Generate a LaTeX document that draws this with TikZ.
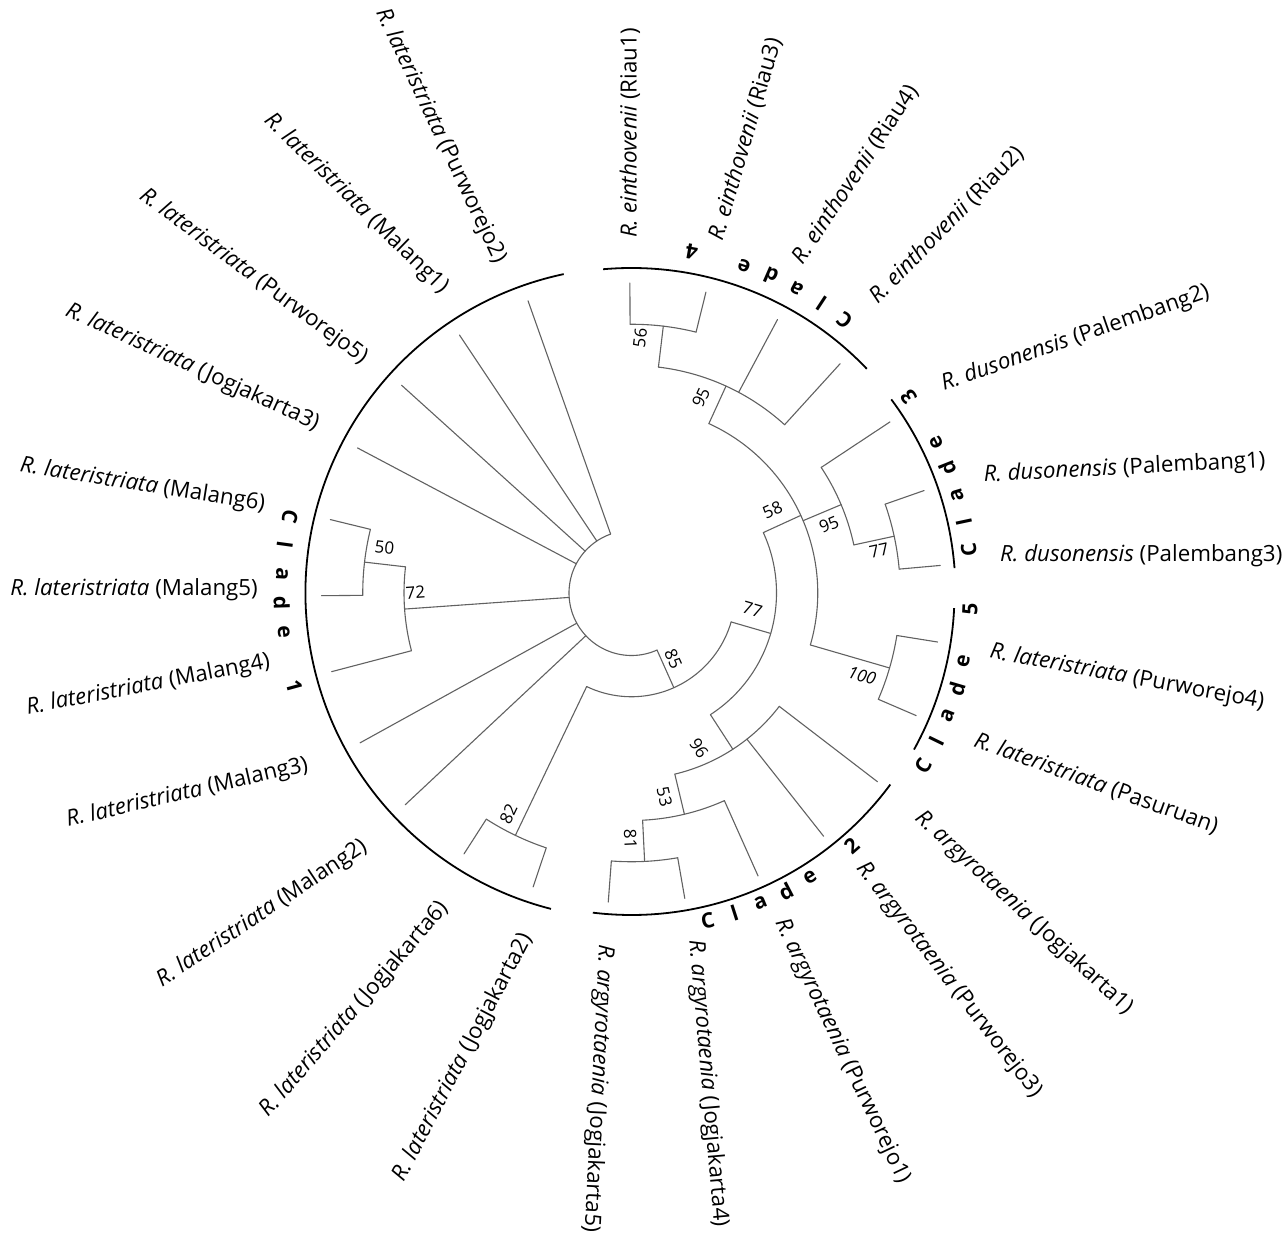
\documentclass[tikz,border=0pt]{standalone}
\usepackage{fontspec}
\setmainfont{Open Sans}
\begin{document}
\begin{tikzpicture}[x=1pt,y=1pt]
\tikzset{
 br/.style={draw=black!62, line width=1.1pt, line cap=round},
 cl/.style={draw=black, line width=1.8pt},
 lab/.style={font=\fontsize{22.3}{26}\selectfont, inner sep=0pt},
 bs/.style={font=\fontsize{17}{20}\selectfont, inner sep=0pt},
 cll/.style={font=\bfseries\fontsize{21}{24}\selectfont, inner sep=0pt},
}
\useasboundingbox (-631.5,-653) rectangle (655.5,593);
\newcommand{\Br}[4]{\coordinate (#1b) at (#2:#3pt); \coordinate (#1) at (#2:#4pt); \draw[br] (#1b) -- (#1);}
\newcommand{\Ar}[4]{\draw[br] (#1) arc[start angle=#2, end angle=#3, radius=#4pt];}
\newcommand{\leafR}[5]{\node[lab,rotate=#4,anchor=west] (t#1) at (#2,#3) {#5};}
\newcommand{\leafL}[5]{\node[lab,rotate=#4,anchor=east] (t#1) at (#2,#3) {#5};}
\newcommand{\cletter}[4]{\node[cll,rotate={#2+90}] (#1) at (#2:#3pt) {#4};}
\newcommand{\bsl}[5]{\node[bs,rotate=#4] (#1) at (#2,#3) {#5};}
% radii: r0 62.5 r1 103.75 r2 145 r3 186.25 r4 227.5 r5 268.75 r6 310
% leaves
\Br{L0}{90.3}{268.75}{310}
\Br{L1}{76.1}{268.75}{310}
\Br{L2}{61.9}{227.5}{310}
\Br{L3}{47.7}{227.5}{310}
\Br{L4}{33.5}{227.5}{310}
\Br{L5}{19.3}{268.75}{310}
\Br{L6}{5.1}{268.75}{310}
\Br{L7}{-9.1}{268.75}{310}
\Br{L8}{-23.3}{268.75}{310}
\Br{L9}{-37.5}{186.25}{310}
\Br{L10}{-51.7}{186.25}{310}
\Br{L11}{-65.9}{227.5}{310}
\Br{L12}{-80.1}{268.75}{310}
\Br{L13}{-94.3}{268.75}{310}
\Br{L14}{-108.5}{268.75}{310}
\Br{L15}{-122.7}{268.75}{310}
\Br{L16}{-136.9}{62.5}{310}
\Br{L17}{-151.1}{62.5}{310}
\Br{L18}{-165.3}{227.5}{310}
\Br{L19}{-179.5}{268.75}{310}
\Br{L20}{-193.7}{268.75}{310}
\Br{L21}{-207.9}{62.5}{310}
\Br{L22}{-222.1}{62.5}{310}
\Br{L23}{-236.3}{62.5}{310}
\Br{L24}{-250.5}{62.5}{310}
% internal stems
\Br{n56}{83.2}{227.5}{268.75}
\Br{n95a}{65.45}{186.25}{227.5}
\Br{n77c}{12.2}{227.5}{268.75}
\Br{n95b}{22.85}{186.25}{227.5}
\Br{n100}{-16.2}{186.25}{268.75}
\Br{n58}{24.625}{145}{186.25}
\Br{n81}{-87.2}{227.5}{268.75}
\Br{n53}{-76.55}{186.25}{227.5}
\Br{n96}{-57.025}{145}{186.25}
\Br{n77}{-16.2}{103.75}{145}
\Br{n82}{-115.6}{103.75}{268.75}
\Br{n85}{-65.9}{62.5}{103.75}
\Br{n50}{-186.6}{227.5}{268.75}
\Br{n72}{-175.95}{62.5}{227.5}
% arcs
\Ar{L0b}{90.3}{76.1}{268.75}
\Ar{n56b}{83.2}{47.7}{227.5}
\Ar{L5b}{19.3}{5.1}{268.75}
\Ar{L4b}{33.5}{12.2}{227.5}
\Ar{L7b}{-9.1}{-23.3}{268.75}
\Ar{n95ab}{65.45}{-16.2}{186.25}
\Ar{L12b}{-80.1}{-94.3}{268.75}
\Ar{L11b}{-65.9}{-87.2}{227.5}
\Ar{L9b}{-37.5}{-76.55}{186.25}
\Ar{n58b}{24.625}{-57.025}{145}
\Ar{L14b}{-108.5}{-122.7}{268.75}
\Ar{n77b}{-16.2}{-115.6}{103.75}
\Ar{L19b}{-179.5}{-193.7}{268.75}
\Ar{L18b}{-165.3}{-186.6}{227.5}
\Ar{n85b}{-65.9}{-250.5}{62.5}
% clade arcs
\coordinate (c1s) at (102:326pt); \draw[cl] (c1s) arc[start angle=102, end angle=255.7, radius=326pt];
\coordinate (c4s) at (95:325pt); \draw[cl] (c4s) arc[start angle=95, end angle=43.6, radius=325pt];
\coordinate (c3s) at (36.7:324pt); \draw[cl] (c3s) arc[start angle=36.7, end angle=4.4, radius=324pt];
\coordinate (c5s) at (-2.7:323pt); \draw[cl] (c5s) arc[start angle=-2.7, end angle=-29, radius=323pt];
\coordinate (c2s) at (-36.5:322pt); \draw[cl] (c2s) arc[start angle=-36.5, end angle=-96.9, radius=322pt];
% clade labels
\cletter{a1}{167.4}{350}{C}\cletter{b1}{172.15}{350}{l}\cletter{c1}{176.9}{350}{a}\cletter{d1}{181.65}{350}{d}\cletter{e1}{186.4}{350}{e}\cletter{f1}{195.4}{350}{1}
\cletter{a4}{52}{346}{C}\cletter{b4}{56.75}{346}{l}\cletter{c4}{61.5}{346}{a}\cletter{d4}{66.25}{346}{d}\cletter{e4}{71}{346}{e}\cletter{f4}{80}{346}{4}
\cletter{a3}{7.3}{340}{C}\cletter{b3}{12.05}{340}{l}\cletter{c3}{16.8}{340}{a}\cletter{d3}{21.55}{340}{d}\cletter{e3}{26.3}{340}{e}\cletter{f3}{35.3}{340}{3}
\cletter{a5}{-30.7}{339}{C}\cletter{b5}{-25.95}{339}{l}\cletter{c5}{-21.2}{339}{a}\cletter{d5}{-16.45}{339}{d}\cletter{e5}{-11.7}{339}{e}\cletter{f5}{-2.7}{339}{5}
\cletter{a2}{-76.9}{336}{C}\cletter{b2}{-72.15}{336}{l}\cletter{c2}{-67.4}{336}{a}\cletter{d2}{-62.65}{336}{d}\cletter{e2}{-57.9}{336}{e}\cletter{f2}{-48.9}{336}{2}
% bootstrap
\bsl{s56}{8.5}{255}{83.2}{56}
\bsl{s95a}{69.5}{195.5}{65.45}{95}
\bsl{s58}{141}{83}{24.6}{58}
\bsl{s95b}{197.5}{68.5}{22.85}{95}
\bsl{s77c}{247.5}{42.5}{12.2}{77}
\bsl{s100}{230.5}{-82.5}{-16.2}{\itshape 100}
\bsl{s77}{121}{-16.5}{-16.2}{77}
\bsl{s85}{42}{-66}{-65.9}{85}
\bsl{s96}{67.5}{-155}{-57}{96}
\bsl{s53}{33}{-204}{-76.55}{53}
\bsl{s81}{-1}{-246}{-87.2}{81}
\bsl{s82}{-123}{-221}{64.4}{82}
\bsl{s72}{-216}{0.5}{4.05}{72}
\bsl{s50}{-247}{45.5}{-6.6}{50}
% leaf labels
\leafR{0}{-1.5}{355}{90}{\textit{R. einthovenii} (Riau1)}
\leafR{1}{84.5}{353}{73.7}{\textit{R. einthovenii} (Riau3)}
\leafR{2}{165.5}{331}{56.3}{\textit{R. einthovenii} (Riau4)}
\leafR{3}{241.5}{293}{45.5}{\textit{R. einthovenii} (Riau2)}
\leafR{4}{310.5}{208}{19.2}{\textit{R. dusonensis} (Palembang2)}
\leafR{5}{352}{117}{3}{\textit{R. dusonensis} (Palembang1)}
\leafR{6}{368.5}{37}{0}{\textit{R. dusonensis} (Palembang3)}
\leafR{7}{358.5}{-59}{-10.5}{\textit{R. lateristriata} (Purworejo4)}
\leafR{8}{343.5}{-147}{-19.8}{\textit{R. lateristriata} (Pasuruan)}
\leafR{9}{286.5}{-222}{-42.8}{\textit{R. argyrotaenia} (Jogjakarta1)}
\leafR{10}{228.5}{-272}{-52.4}{\textit{R. argyrotaenia} (Purworejo3)}
\leafR{11}{148.5}{-327}{-64.7}{\textit{R. argyrotaenia} (Purworejo1)}
\leafR{12}{63.5}{-347}{-85}{\textit{R. argyrotaenia} (Jogjakarta4)}
\leafR{13}{-26.5}{-352}{-92.9}{\textit{R. argyrotaenia} (Jogjakarta5)}
\leafL{14}{-104.5}{-342}{62.3}{\textit{R. lateristriata} (Jogjakarta2)}
\leafL{15}{-186.5}{-312}{49.2}{\textit{R. lateristriata} (Jogjakarta6)}
\leafL{16}{-266.5}{-252}{33.7}{\textit{R. lateristriata} (Malang2)}
\leafL{17}{-323.5}{-172}{13.1}{\textit{R. lateristriata} (Malang3)}
\leafL{18}{-361.5}{-69}{10.9}{\textit{R. lateristriata} (Malang4)}
\leafL{19}{-373.5}{3}{0}{\textit{R. lateristriata} (Malang5)}
\leafL{20}{-366.5}{88}{-9}{\textit{R. lateristriata} (Malang6)}
\leafL{21}{-313.5}{168}{-24.6}{\textit{R. lateristriata} (Jogjakarta3)}
\leafL{22}{-266.5}{233}{-36.7}{\textit{R. lateristriata} (Purworejo5)}
\leafL{23}{-186.5}{303}{-44.2}{\textit{R. lateristriata} (Malang1)}
\leafL{24}{-131.5}{331}{-64.7}{\textit{R. lateristriata} (Purworejo2)}
\end{tikzpicture}
\end{document}
